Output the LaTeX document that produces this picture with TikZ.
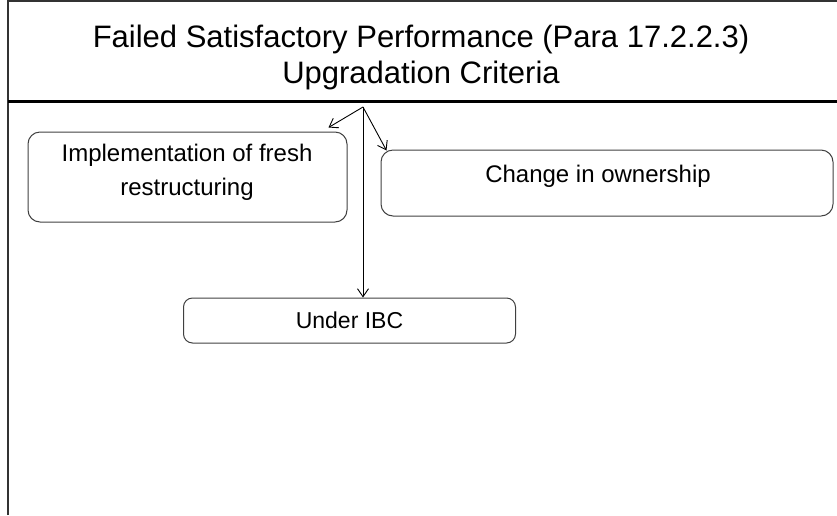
\documentclass[tikz,border=0pt]{standalone}
\usepackage{fontspec}
\setmainfont{Liberation Sans}
\usetikzlibrary{arrows.meta,calc}
\tikzset{
  box/.style={draw=black!75, line width=1pt, rounded corners=12pt, inner sep=0pt, align=center,
    font=\fontsize{24}{34}\selectfont},
  conn/.style={draw=black, line width=0.9pt, -{Straight Barb[length=8pt,width=11pt]}},
  ttl/.style={align=center, inner sep=0pt, font=\fontsize{31}{36}\selectfont}
}
\begin{document}
\begin{tikzpicture}[x=1pt,y=-1pt]
\useasboundingbox (0,0) rectangle (837,515);
\draw[black!80, line width=1.5pt] (8,515) -- (8,1) -- (837,1);
\draw[black, line width=3pt] (8,101) -- (837,101);
\node[ttl] (title) at (421,57) {Failed Satisfactory Performance (Para 17.2.2.3)\\Upgradation Criteria};
\node[box, minimum width=319pt, minimum height=90pt] (lbox) at (187.5,177) {};
\node[font=\fontsize{24}{34}\selectfont, inner sep=0pt, align=center] (ltext) at (187,172) {Implementation of fresh\\restructuring};
\node[box, minimum width=452pt, minimum height=66pt] (rbox) at (607,183) {};
\node[font=\fontsize{24}{34}\selectfont, inner sep=0pt] (rtext) at (598,176) {Change in ownership};
\node[box, minimum width=332pt, minimum height=45pt, rounded corners=9pt, font=\fontsize{23}{27}\selectfont] (ubox) at (349.5,320.5) {Under IBC};
\coordinate (apex) at (363,107);
\draw[conn] (apex) -- ($(lbox.north east)+(-19,-4)$);
\draw[conn] (apex) -- ($(rbox.north west)+(6,1)$);
\draw[conn] (apex) -- (apex |- ubox.north);
\end{tikzpicture}
\end{document}
